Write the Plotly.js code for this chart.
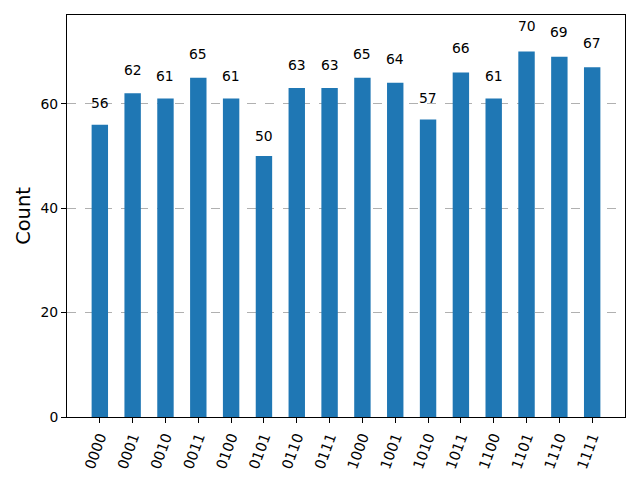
<!DOCTYPE html>
<html><head><meta charset="utf-8">
<script src="https://cdn.plot.ly/plotly-3.0.1.min.js"></script>
<style>body{margin:0;background:#fff}#c{width:640px;height:480px}</style>
</head><body><div id="c"></div>
<script>
const states = ["0000","0001","0010","0011","0100","0101","0110","0111","1000","1001","1010","1011","1100","1101","1110","1111"];
const counts = [56,62,61,65,61,50,63,63,65,64,57,66,61,70,69,67];
const idx = states.map((s,i)=>i);
const font = {family:"DejaVu Sans", size:13.9, color:"#000"};
const annotations = counts.map((v,i)=>({x:i, y:v*1.05, xref:'x', yref:'y', text:String(v), showarrow:false, yanchor:'bottom', xanchor:'center', yshift:-3, font:font}));
Plotly.newPlot('c',[{type:'bar', x:idx, y:counts, width:0.5, marker:{color:'#1f77b4'}, hoverinfo:'none'}],{
  width:640,height:480,margin:{l:67,r:15,t:15,b:63,autoexpand:false},
  paper_bgcolor:'#fff',plot_bgcolor:'#fff',showlegend:false,
  font:font,
  xaxis:{automargin:false,range:[-1,16],tickmode:'array',tickvals:idx,ticktext:states,tickangle:-70,ticks:'outside',ticklen:5,tickcolor:'#000',showline:true,mirror:true,linecolor:'#000',linewidth:1,showgrid:false,zeroline:false,tickfont:{family:"DejaVu Sans", size:14.5, color:"#000"}},
  yaxis:{automargin:false,range:[0,77],tickvals:[0,20,40,60],ticks:'outside',ticklen:5,tickcolor:'#000',showline:true,mirror:true,linecolor:'#000',linewidth:1,showgrid:true,gridcolor:'#b0b0b0',griddash:'dash',gridwidth:1,zeroline:false,tickfont:font,
    title:{text:'Count',font:{family:'DejaVu Sans',size:19.4,color:'#000'},standoff:4}},
  annotations:annotations
},{staticPlot:true});
</script></body></html>
